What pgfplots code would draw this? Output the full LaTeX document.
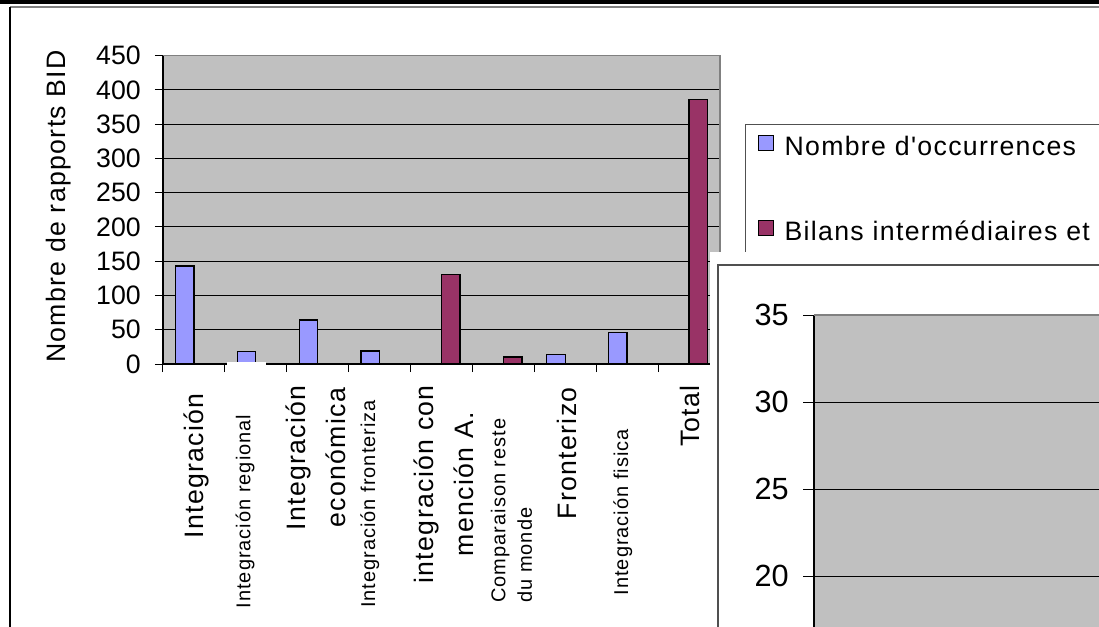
\documentclass[border=0pt]{standalone}
\usepackage{fontspec}
\setmainfont{Liberation Sans}
\newfontfamily\lsfont[LetterSpace=5]{Liberation Sans}
\usepackage{pgfplots}
\pgfplotsset{compat=1.18}
\definecolor{xlblue}{HTML}{9999FF}
\definecolor{xlred}{HTML}{993366}
\definecolor{xlgray}{HTML}{C0C0C0}
\definecolor{xlframe}{HTML}{505050}
\newcommand\labL{\fontsize{20}{30}\lsfont}
\newcommand\labS{\fontsize{15}{20}\lsfont}
\begin{document}
\begin{tikzpicture}
\path[use as bounding box] (0,0) rectangle (824.25pt,469.5pt);
\clip (0,0) rectangle (824.25pt,469.5pt);
\fill[white] (0,0) rectangle (824.25pt,469.5pt);
% ---------------- main chart ----------------
\begin{axis}[
  at={(122.25pt,196.5pt)}, anchor=south west,
  scale only axis, width=417.75pt, height=231.2pt,
  xmin=0, xmax=9, ymin=0, ymax=450,
  clip=false,
  ybar=0pt, bar width=13.9pt,
  axis background/.style={fill=xlgray},
  axis lines*=left,
  axis line style={black, line width=0.9pt},
  ytick={0,50,...,450},
  ymajorgrids, major grid style={black, line width=0.75pt},
  tick align=outside, major tick length=6pt, minor tick length=6pt,
  tick style={black, line width=0.75pt},
  xtick={0.544,1.325,2.496,3.344,4.57,5.66,6.53,7.43,8.51},
  xticklabels={
    {\labL Integración\hspace*{6pt}},
    {\labS Integración regional\hspace*{22pt}},
    {\labL\begin{tabular}{@{}c@{}}Integración\\económica\end{tabular}},
    {\labS Integración fronteriza\hspace*{11pt}},
    {\labL\begin{tabular}{@{}c@{}}integración con\\mención A.\end{tabular}},
    {\labS\begin{tabular}{@{}l@{}}Comparaison reste\\du monde\end{tabular}\hspace*{25pt}},
    {\labL Fronterizo\hspace*{1.5pt}},
    {\labS Integración fisica\hspace*{33pt}},
    {\labL Total}},
  minor xtick={0,...,9},
  major x tick style={draw=none},
  xticklabel style={rotate=90, anchor=east, inner sep=0pt},
  xticklabel shift=9.75pt,
  yticklabel style={font=\fontsize{20}{23}\selectfont, inner sep=0pt},
  yticklabel shift=10.5pt,
  /pgf/number format/assume math mode=true,
  ylabel={\fontsize{20}{24}\lsfont Nombre de rapports BID},
  ylabel style={at={(axis description cs:-0.187,0.511)}, anchor=center},
  legend style={at={(axis description cs:1.0449,0.779)}, anchor=north west,
    draw=xlframe, line width=0.75pt, fill=white,
    font=\fontsize{20}{24}\lsfont,
    inner xsep=9pt, inner ysep=6.25pt,
    row sep=39.75pt,
    nodes={text height=15pt, text depth=5pt, inner sep=2pt, text width=320pt},
    /tikz/every odd column/.append style={column sep=6.25pt}},
  legend cell align=left,
  legend image code/.code={\draw[#1,draw=black,line width=0.75pt] (0pt,-1.5pt) rectangle (11.25pt,9.75pt);},
]
\addplot[fill=xlblue, draw=black, line width=1pt] coordinates {(0.5,143) (1.5,18) (2.5,64) (3.5,19) (6.5,14) (7.5,46)};
\addplot[fill=xlred, draw=black, line width=1pt] coordinates {(4.5,131) (5.5,10) (8.5,386)};
\legend{Nombre d'occurrences, Bilans intermédiaires et}
\draw[gray, line width=0.9pt] (rel axis cs:0,1) -- (rel axis cs:1,1) -- (rel axis cs:1,0);
\end{axis}
\begin{scope}[x=0.75pt, y=-0.75pt, shift={(0pt,469.5pt)}]
  \fill[white] (227,362) rectangle (266,368);
  \fill[black] (0,0) rectangle (1100,4.5);
  \draw[gray, line width=0.9pt] (10,7) -- (1100,7);
  \draw[black, line width=1.4pt] (10,7) -- (10,630);
  % second chart frame
  \fill[white] (710,252) rectangle (1105,632);
  \draw[xlframe, line width=1.1pt] (718,265) rectangle (1110,640);
\end{scope}
% ---------------- second (partly hidden) chart ----------------
\begin{axis}[
  at={(610.5pt,-223.5pt)}, anchor=south west,
  scale only axis, width=400pt, height=456.75pt,
  xmin=0, xmax=1, ymin=0, ymax=35,
  clip=false,
  axis background/.style={fill=xlgray},
  axis lines*=left,
  axis line style={black, line width=0.9pt},
  ytick={20,25,30,35}, xtick=\empty,
  extra y ticks={0,5,10,15},
  extra y tick labels={},
  ymajorgrids, major grid style={black, line width=0.75pt},
  tick align=outside, major tick length=8.25pt,
  tick style={black, line width=0.75pt},
  yticklabel style={font=\fontsize{23}{26}\selectfont, inner sep=0pt},
  yticklabel shift=10.5pt,
  /pgf/number format/assume math mode=true,
]
\draw[gray, line width=0.9pt] (rel axis cs:0,1) -- (rel axis cs:1,1);
\end{axis}
\end{tikzpicture}
\end{document}
